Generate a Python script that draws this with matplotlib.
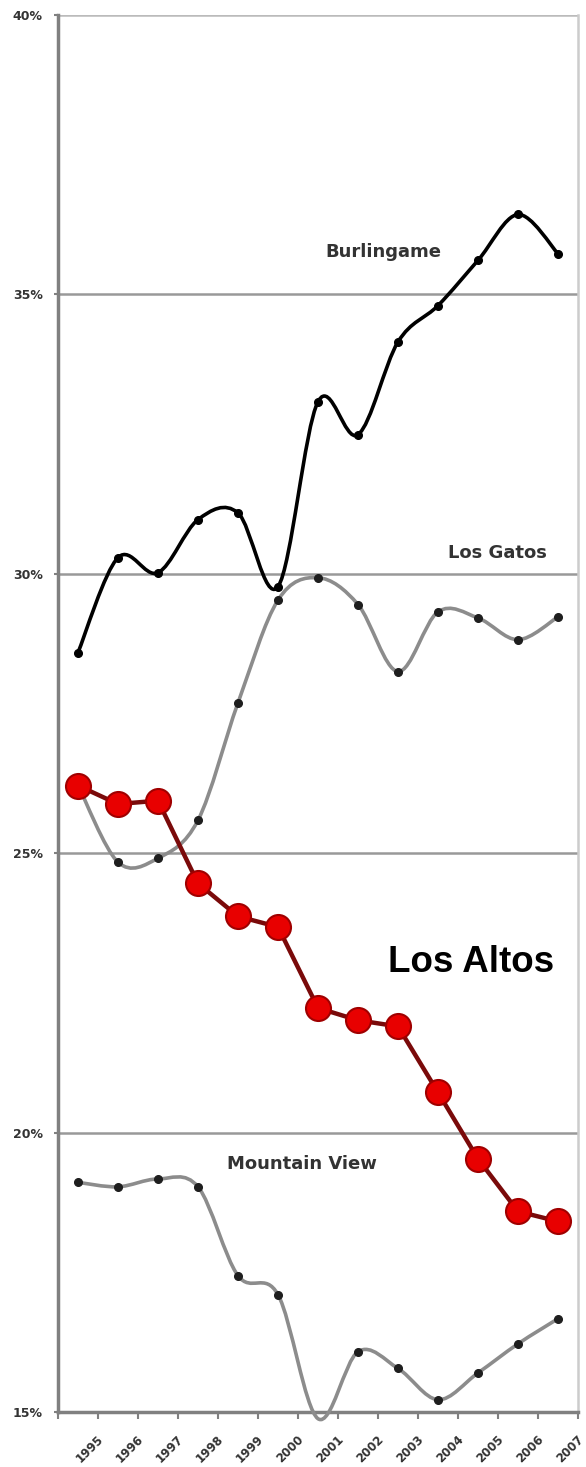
"""Share of adults by city, 1995-2007: Burlingame, Los Gatos, Los Altos, Mountain View."""
import numpy as np
import matplotlib
matplotlib.use("Agg")
import matplotlib.pyplot as plt
from matplotlib.path import Path
from matplotlib.patches import PathPatch
from matplotlib.transforms import ScaledTranslation

years = ["1995", "1996", "1997", "1998", "1999", "2000", "2001",
         "2002", "2003", "2004", "2005", "2006", "2007"]

burlingame = [28.59, 30.29, 30.02, 30.97, 31.09, 29.77, 33.08,
              32.49, 34.15, 34.80, 35.61, 36.43, 35.73]
los_gatos = [26.22, 24.84, 24.91, 25.59, 27.69, 29.53, 29.93,
             29.45, 28.25, 29.32, 29.21, 28.82, 29.23]
los_altos = [26.21, 25.88, 25.94, 24.46, 23.87, 23.68, 22.23,
             22.01, 21.90, 20.72, 19.53, 18.59, 18.41]
mountain_view = [19.11, 19.03, 19.17, 19.03, 17.44, 17.10, 14.88,
                 16.08, 15.78, 15.22, 15.70, 16.22, 16.67]

y_ticks = [15, 20, 25, 30, 35, 40]


def smooth_path(xs, ys):
    # Excel-style smoothed line: Catmull-Rom segments as cubic Beziers
    pts = np.column_stack([xs, ys]).astype(float)
    verts = [pts[0]]
    codes = [Path.MOVETO]
    n = len(pts)
    for i in range(n - 1):
        p0 = pts[i - 1] if i > 0 else pts[i]
        p1, p2 = pts[i], pts[i + 1]
        p3 = pts[i + 2] if i + 2 < n else pts[i + 1]
        verts += [p1 + (p2 - p0) / 6, p2 - (p3 - p1) / 6, p2]
        codes += [Path.CURVE4] * 3
    return Path(verts, codes)


fig = plt.figure(figsize=(5.86, 14.67), dpi=100)
ax = fig.add_axes([58 / 586, 55 / 1467, 520 / 586, 1397 / 1467])

x = np.arange(len(years))
ax.set_xlim(-0.5, len(years) - 0.5)
ax.set_ylim(15, 40)

# gridlines
for v in y_ticks[1:]:
    ax.axhline(v, color="#bbbbbb" if v == 40 else "#999999", lw=1.8, zorder=1)

# smoothed gray / black series
for vals, col, z in [(mountain_view, "#8c8c8c", 3), (los_gatos, "#8c8c8c", 3),
                     (burlingame, "black", 4)]:
    patch = PathPatch(smooth_path(x, vals), fill=False, edgecolor=col,
                      lw=2.6, capstyle="round", joinstyle="round",
                      zorder=z, clip_on=False)
    ax.add_patch(patch)
    ax.plot(x, vals, "o", color="black" if col == "black" else "#1e1e1e",
            markersize=5.5, zorder=z + 0.1)

# Los Altos: straight segments, big red circles
ax.plot(x, los_altos, "-", color="#7a0a0a", lw=3.2, zorder=5)
ax.plot(x, los_altos, "o", markersize=18, markerfacecolor="#e80000",
        markeredgecolor="#a00000", markeredgewidth=1.5, zorder=6)

# series labels
ax.text(7.63, 35.76, "Burlingame", fontsize=13, fontweight="bold",
        color="#333333", ha="center", va="center")
ax.text(10.48, 30.38, "Los Gatos", fontsize=13, fontweight="bold",
        color="#333333", ha="center", va="center")
ax.text(5.6, 19.43, "Mountain View", fontsize=13, fontweight="bold",
        color="#333333", ha="center", va="center")
ax.text(9.83, 23.05, "Los Altos", fontsize=26.5, fontweight="bold",
        family="Liberation Sans", color="black", ha="center", va="center")

# axes
for side in ("left", "bottom"):
    ax.spines[side].set_color("#808080")
    ax.spines[side].set_linewidth(2.5)
ax.spines["top"].set_visible(False)
ax.spines["right"].set_color("#cccccc")
ax.spines["right"].set_linewidth(1.8)

ax.set_yticks(y_ticks)
ax.set_yticklabels([f"{v}%" for v in y_ticks], fontsize=9, fontweight="bold",
                   color="#333333")
ax.tick_params(axis="y", length=3, width=1.5, color="#808080", pad=8)

ax.set_xticks(np.arange(-0.5, len(years)))
ax.set_xticklabels([""] + years, rotation=45, ha="right", va="top",
                   fontsize=8.5, fontweight="bold", color="#333333")
ax.tick_params(axis="x", length=5, width=1.5, color="#808080", pad=10)
for lbl in ax.get_xticklabels():
    lbl.set_transform(lbl.get_transform() + ScaledTranslation(8 / 100, 0, fig.dpi_scale_trans))

fig.savefig("out.png", dpi=100)
